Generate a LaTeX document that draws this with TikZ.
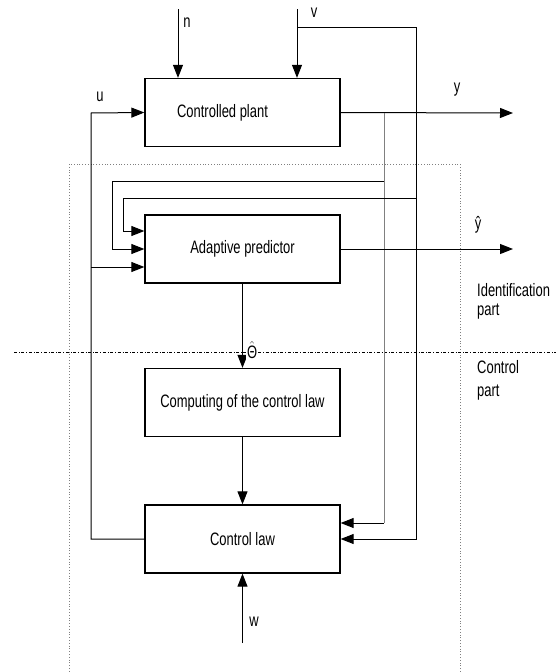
\documentclass[tikz,border=0pt]{standalone}
\usepackage{fontspec}
\setmainfont{Liberation Sans}[FakeStretch=0.72]
\usetikzlibrary{arrows.meta, calc}

\begin{document}
\begin{tikzpicture}[x=1pt, y=-1pt, font=\fontsize{18}{19}\selectfont,
	block/.style={draw, line width=1.3pt, minimum width=195pt, minimum height=68pt, inner sep=0pt},
	sig/.style={line width=1pt, -{Triangle[length=13pt,width=10pt]}},
	wire/.style={line width=1pt},
	lbl/.style={inner sep=0pt}]

	% page frame, same size as the reference
	\useasboundingbox (0,0) rectangle (556,672);

	% the four blocks of the loop
	\node[block] (plant) at (242.5,112.5) {\hspace*{-40pt}Controlled plant};
	\node[block] (pred) at (242.5,249) {Adaptive predictor};
	\node[block] (comp) at (242.5,402.5) {Computing of the control law};
	\node[block] (law) at (242.5,539) {Control law};

	% identification part (dotted) and the split line
	\draw[dotted, line width=0.8pt, gray] (69,164) rectangle (460,690);
	\draw[dash dot, line width=0.8pt] (14,352) -- (556,352);

	% disturbances n and v
	\coordinate (n0) at (178,9);
	\coordinate (v0) at (297,9);
	\coordinate (vtap) at (297,27);
	\coordinate (vr) at (416,27);
	\draw[sig] (n0) -- (n0 |- plant.north);
	\draw[sig] (v0) -- (v0 |- plant.north);
	\node[lbl] (nlab) at (187,23) {n};
	\node[lbl] (vlab) at (314,13) {v};
	\draw[sig] (vtap) -- (vr) -- (vr |- law.east) -- (law.east);

	% output y and its taps
	\coordinate (yend) at (513,113);
	\coordinate (yt) at (384,113);
	\coordinate (yb) at (384,523);
	\coordinate (py) at (112,181);
	\coordinate (pv) at (123,198);
	\draw[sig] (plant.east) -- (yend);
	\node[lbl] (ylab) at (457,90) {y};
	\draw[wire, gray] (yt) -- (yb);
	\draw[sig] (yb) -- ($(law.east)+(0,-16)$);
	\draw[sig] (yt |- py) -- (py) |- (pred.west);
	\draw[sig] (vr |- pv) -- (pv) |- ($(pred.west)+(0,-18)$);

	% control signal u
	\coordinate (uc) at (91,113);
	\draw[sig] (law.west) -| (uc) -- (plant.west);
	\draw[sig] (uc |- 0,267) -- ($(pred.west)+(0,18)$);
	\node[lbl] (ulab) at (100,97) {u};

	% predictor output and parameters
	\draw[sig] (pred.east) -- (pred.east -| yend);
	\node[lbl] (yhlab) at (478,225) {ŷ};
	\draw[sig] (pred.south) -- (comp.north) node[lbl, pos=0.79, right, xshift=3pt, fill=white, inner sep=1pt] (thlab) {$\hat{\mbox{Θ}}$};
	\draw[sig] (comp.south) -- (law.north);

	% reference w
	\coordinate (w0) at (242.5,643);
	\draw[sig] (w0) -- (law.south);
	\node[lbl] (wlab) at (254,622) {w};

	% names of the two parts
	\node[lbl, anchor=west, align=left] (idpart) at (477,301) {Identification\\part};
	\node[lbl, anchor=west, align=left] (ctpart) at (477,380) {Control\\[4pt]part};

\end{tikzpicture}
\end{document}
